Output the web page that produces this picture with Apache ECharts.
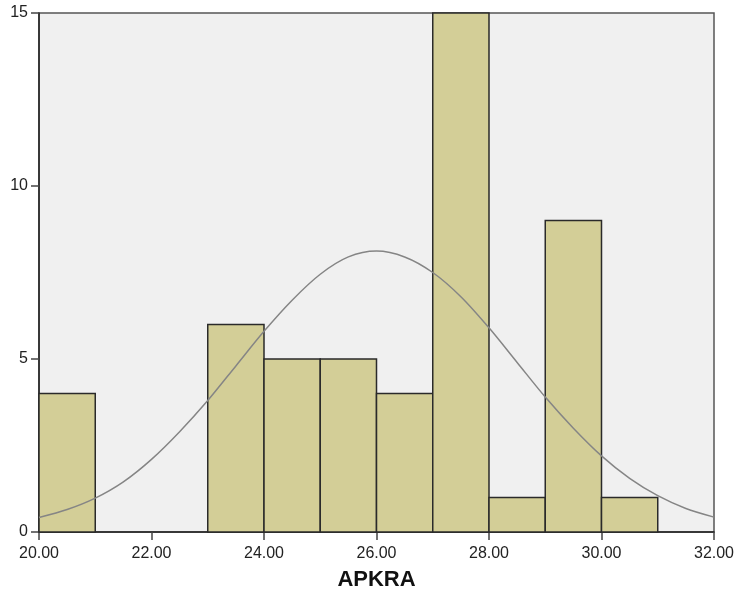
<!DOCTYPE html>
<html><head><meta charset="utf-8">
<script src="https://cdn.jsdelivr.net/npm/echarts@6/dist/echarts.min.js"></script>
<style>html,body{margin:0;padding:0;background:#fff}#c{width:736px;height:592px}</style>
</head><body><div id="c"></div>
<script>
// Histogram bins: [start, end]
const binStarts = [20, 21, 22, 23, 24, 25, 26, 27, 28, 29, 30, 31];
const binEnds   = [21, 22, 23, 24, 25, 26, 27, 28, 29, 30, 31, 32];
const counts    = [4, 0, 0, 6, 5, 5, 4, 15, 1, 9, 1, 0];
// Normal curve, values
const curveX = [20, 20.5, 21, 21.5, 22, 22.5, 23, 23.5, 24, 24.5, 25, 25.5, 26, 26.5, 27, 27.5, 28, 28.5, 29, 29.5, 30, 30.5, 31, 31.5, 32];
const curveY = [0.42, 0.65, 0.98, 1.45, 2.1, 2.9, 3.8, 4.8, 5.8, 6.7, 7.45, 7.95, 8.12, 7.95, 7.5, 6.8, 5.9, 4.9, 3.9, 3.0, 2.2, 1.55, 1.05, 0.68, 0.43];
const xTicks = [20, 22, 24, 26, 28, 30, 32];
const yTicks = [0, 5, 10, 15];
const xTitle = 'APKRA';

const barData = binStarts.map((s, i) => [s, binEnds[i], counts[i]]).filter(d => d[2] > 0);
const lineData = curveX.map((x, i) => [x, curveY[i]]);

const chart = echarts.init(document.getElementById('c'));
chart.setOption({
  animation: false,
  grid: { left: 39, right: 22, top: 13, bottom: 60, containLabel: false, outerBoundsMode: 'none', show: true, backgroundColor: '#f0f0f0', borderColor: '#555', borderWidth: 1.5 },
  xAxis: {
    type: 'value', min: xTicks[0], max: xTicks[xTicks.length - 1], interval: 2,
    name: xTitle, nameLocation: 'middle', nameGap: 48,
    nameTextStyle: { fontFamily: 'Liberation Sans', fontSize: 22, fontWeight: 'bold', color: '#111', verticalAlign: 'middle' },
    axisLine: { show: true, lineStyle: { color: '#222', width: 1.5 } },
    axisTick: { show: true, length: 8, lineStyle: { color: '#444', width: 1.5 } },
    axisLabel: { fontFamily: 'Liberation Sans', fontSize: 16, color: '#222', margin: 14, formatter: v => v.toFixed(2) },
    splitLine: { show: false }
  },
  yAxis: {
    type: 'value', min: yTicks[0], max: yTicks[yTicks.length - 1], interval: 5,
    axisLine: { show: true, lineStyle: { color: '#222', width: 1.5 } },
    axisTick: { show: true, length: 8, lineStyle: { color: '#444', width: 1.5 } },
    axisLabel: { fontFamily: 'Liberation Sans', fontSize: 16, color: '#222', margin: 11 },
    splitLine: { show: false }
  },
  series: [
    {
      type: 'custom',
      data: barData,
      encode: { x: [0, 1], y: 2 },
      renderItem: function (params, api) {
        const p0 = api.coord([api.value(0), 0]);
        const p1 = api.coord([api.value(1), api.value(2)]);
        return {
          type: 'rect',
          shape: { x: p0[0], y: p1[1], width: p1[0] - p0[0], height: p0[1] - p1[1] },
          style: { fill: '#d3ce97', stroke: '#2a2a2a', lineWidth: 1.5 }
        };
      },
      z: 2
    },
    {
      type: 'line', data: lineData, smooth: 0.3, symbol: 'none',
      lineStyle: { color: '#858585', width: 1.5 }, z: 3
    }
  ]
});
</script>
</body></html>
